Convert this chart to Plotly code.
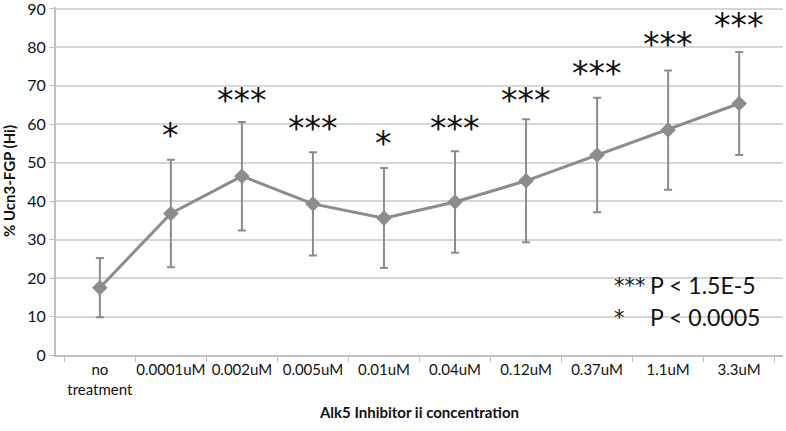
import plotly.graph_objects as go

categories = ["no<br>treatment", "0.0001uM", "0.002uM", "0.005uM", "0.01uM",
              "0.04uM", "0.12uM", "0.37uM", "1.1uM", "3.3uM"]
values = [17.5, 36.8, 46.5, 39.3, 35.6, 39.8, 45.3, 52.0, 58.5, 65.4]
errors = [7.7, 14.0, 14.1, 13.4, 13.0, 13.2, 16.0, 14.9, 15.5, 13.4]
stars = ["", "*", "***", "***", "*", "***", "***", "***", "***", "***"]
star_y = [0, 57, 66.3, 58.8, 55, 58.8, 66.3, 73.3, 80.8, 85.8]

FONT = "Lato"
STARFONT = "DejaVu Sans"
GRAY = "#8c8c8c"
TXT = "#111111"

fig = go.Figure()
fig.add_trace(go.Scatter(
    x=categories, y=values,
    mode="lines+markers",
    line=dict(color=GRAY, width=3),
    marker=dict(symbol="diamond", size=12, color=GRAY),
    error_y=dict(type="data", array=errors, visible=True,
                 color=GRAY, thickness=2, width=4),
    showlegend=False,
))

for c, s, yy in zip(categories, stars, star_y):
    if s:
        fig.add_annotation(x=c, y=yy, text=s, showarrow=False,
                           font=dict(family=STARFONT, size=33, color=TXT),
                           yanchor="middle")

fig.add_annotation(xref="paper", yref="y", x=0.765, y=18.0, text="***",
                   showarrow=False, xanchor="left",
                   font=dict(family=STARFONT, size=21, color=TXT))
fig.add_annotation(xref="paper", yref="y", x=0.814, y=18.3, text="P < 1.5E-5",
                   showarrow=False, xanchor="left",
                   font=dict(family=FONT, size=23, color=TXT))
fig.add_annotation(xref="paper", yref="y", x=0.765, y=9.6, text="*",
                   showarrow=False, xanchor="left",
                   font=dict(family=STARFONT, size=21, color=TXT))
fig.add_annotation(xref="paper", yref="y", x=0.814, y=9.8, text="P < 0.0005",
                   showarrow=False, xanchor="left",
                   font=dict(family=FONT, size=23, color=TXT))

fig.update_layout(
    width=786, height=431,
    margin=dict(l=56, r=3, t=7, b=76),
    paper_bgcolor="white", plot_bgcolor="white",
    font=dict(family=FONT, color=TXT),
    xaxis=dict(
        type="category", tickson="boundaries", ticks="outside", ticklen=5,
        tickcolor="#c0c0c0", showgrid=False, showline=True, linecolor="#c0c0c0",
        linewidth=2, tickfont=dict(family=FONT, size=15, color=TXT),
        tickangle=0, automargin=False,
        title=dict(text="<b>Alk5 Inhibitor ii concentration</b>",
                   font=dict(family=FONT, size=15, color=TXT), standoff=11),
    ),
    yaxis=dict(
        range=[0, 90.5], tickvals=[0, 10, 20, 30, 40, 50, 60, 70, 80, 90],
        ticks="outside", ticklen=5, tickcolor="#c0c0c0",
        showgrid=True, gridcolor="#d6d6d6", gridwidth=2,
        showline=True, linecolor="#c0c0c0", linewidth=2, zeroline=False,
        tickfont=dict(family=FONT, size=16, color=TXT),
        ticklabeloverflow="allow",
        automargin=False,
        title=dict(text="<b>% Ucn3-FGP (Hi)</b>",
                   font=dict(family=FONT, size=15, color=TXT), standoff=10),
    ),
)

fig.write_html("out.html", config={"displayModeBar": False},
               post_script="document.body.style.margin='0';document.body.style.overflow='hidden';")
